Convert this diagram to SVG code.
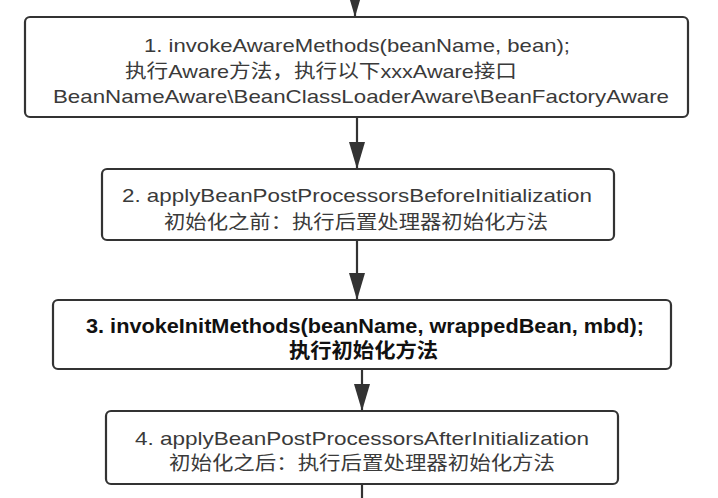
<svg xmlns="http://www.w3.org/2000/svg" width="718" height="498" viewBox="0 0 718 498">
<defs>
<style>
.box{fill:#ffffff;stroke:#333333;stroke-width:2.2}
.t{font-family:"Liberation Sans","Noto Sans CJK SC",sans-serif;font-size:19px;fill:#3a3a3a}
.b{font-family:"Liberation Sans","Noto Sans CJK SC",sans-serif;font-size:20px;font-weight:bold;fill:#111111}
.edge{fill:none;stroke:#333333;stroke-width:2.2}
</style>
<marker id="ah" markerUnits="userSpaceOnUse" markerWidth="28" markerHeight="18" refX="27" refY="8" orient="auto" viewBox="0 0 28 16">
<path d="M0,0 L27,8 L0,16 z" fill="#333333"/>
</marker>
</defs>
<rect width="718" height="498" fill="#ffffff"/>
<g id="connectors">
<path class="edge" d="M355,-15 L355,17" marker-end="url(#ah)"/>
<path class="edge" d="M357,117 L357,169" marker-end="url(#ah)"/>
<path class="edge" d="M357,240 L357,300" marker-end="url(#ah)"/>
<path class="edge" d="M362,369 L362,411" marker-end="url(#ah)"/>
<path class="edge" d="M362,484 L362,500"/>
</g>
<g id="node1">
<rect class="box" x="25" y="17" width="663" height="100" rx="5"/>
<text class="t" x="144" y="52" textLength="426" lengthAdjust="spacingAndGlyphs">1. invokeAwareMethods(beanName, bean);</text>
<text class="t" x="125" y="78" textLength="392" lengthAdjust="spacingAndGlyphs">执行Aware方法，执行以下xxxAware接口</text>
<text class="t" x="53" y="103" textLength="616" lengthAdjust="spacingAndGlyphs">BeanNameAware\BeanClassLoaderAware\BeanFactoryAware</text>
</g>
<g id="node2">
<rect class="box" x="102" y="169" width="512" height="71" rx="5"/>
<text class="t" x="122" y="202" textLength="470" lengthAdjust="spacingAndGlyphs">2. applyBeanPostProcessorsBeforeInitialization</text>
<text class="t" x="164" y="229" textLength="384" lengthAdjust="spacingAndGlyphs">初始化之前：执行后置处理器初始化方法</text>
</g>
<g id="node3">
<rect class="box" x="53" y="300" width="618" height="69" rx="5"/>
<text class="b" x="86" y="333" textLength="558" lengthAdjust="spacingAndGlyphs">3. invokeInitMethods(beanName, wrappedBean, mbd);</text>
<text class="b" x="289" y="358" textLength="149" lengthAdjust="spacingAndGlyphs">执行初始化方法</text>
</g>
<g id="node4">
<rect class="box" x="106" y="411" width="512" height="73" rx="5"/>
<text class="t" x="135" y="445" textLength="454" lengthAdjust="spacingAndGlyphs">4. applyBeanPostProcessorsAfterInitialization</text>
<text class="t" x="169" y="470" textLength="386" lengthAdjust="spacingAndGlyphs">初始化之后：执行后置处理器初始化方法</text>
</g>
</svg>
